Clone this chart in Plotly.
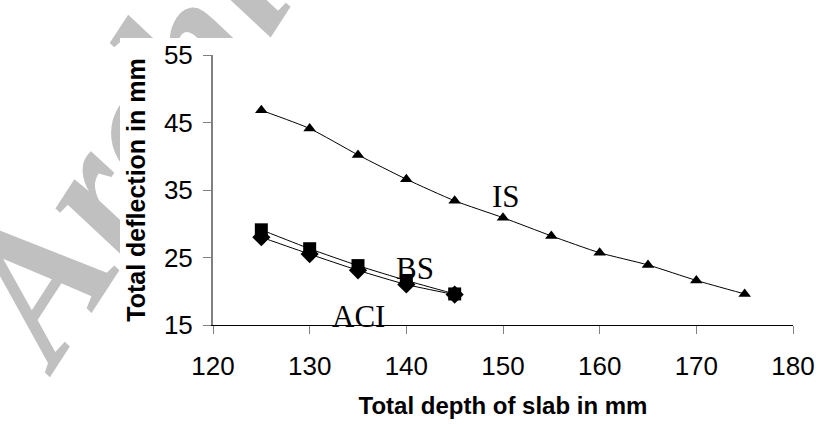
import plotly.graph_objects as go

# Slab depth (mm) and total deflection (mm) for each code
depth_is = [125, 130, 135, 140, 145, 150, 155, 160, 165, 170, 175]
defl_is = [46.8, 44.1, 40.2, 36.6, 33.4, 30.9, 28.2, 25.7, 23.9, 21.6, 19.6]

depth_bs = [125, 130, 135, 140, 145]
defl_bs = [29.1, 26.3, 23.8, 21.6, 19.6]

depth_aci = [125, 130, 135, 140, 145]
defl_aci = [28.0, 25.5, 23.1, 21.0, 19.5]

x_ticks = [120, 130, 140, 150, 160, 170, 180]
y_ticks = [15, 25, 35, 45, 55]

W, H = 819, 424
# plot-area box in pixels
PL, PR, PT, PB = 213, 793, 55, 325
# white chart-area box in pixels
CL, CT = 120, 38


def fx(xpix):
    return xpix / W


def fy(ypix):
    return 1 - ypix / H


fig = go.Figure()

# white chart area (drawn first, under the data subplot)
fig.add_trace(go.Scatter(
    x=[0, 1, 1, 0, 0], y=[0, 0, 1, 1, 0], mode="lines", fill="toself",
    fillcolor="white", line=dict(width=0, color="white"),
    hoverinfo="skip", xaxis="x", yaxis="y",
))

line_style = dict(color="black", width=1, shape="spline", smoothing=0.6)

fig.add_trace(go.Scatter(
    x=depth_aci, y=defl_aci, mode="lines+markers", name="ACI",
    line=line_style, xaxis="x2", yaxis="y2",
    marker=dict(symbol="diamond", size=14, color="black"),
))
fig.add_trace(go.Scatter(
    x=depth_bs, y=defl_bs, mode="lines+markers", name="BS",
    line=line_style, xaxis="x2", yaxis="y2",
    marker=dict(symbol="square", size=13, color="black"),
))
fig.add_trace(go.Scatter(
    x=depth_is, y=defl_is, mode="lines+markers", name="IS",
    line=line_style, xaxis="x2", yaxis="y2",
    marker=dict(symbol="triangle-up", size=11, color="black"),
))

serif = "Times New Roman, Liberation Serif, serif"
sans = "Arial, Liberation Sans, sans-serif"

for txt, xv, yv in [("IS", 150.3, 34.0), ("BS", 140.9, 23.3), ("ACI", 135.1, 16.2)]:
    fig.add_annotation(x=xv, y=yv, xref="x2", yref="y2", text=txt,
                       showarrow=False, xanchor="center", yanchor="middle",
                       font=dict(family=serif, size=31, color="black"))

# faint background lettering
ang = -57
ax0, ay0 = 72, 380
fig.add_shape(
    type="line", xref="paper", yref="paper",
    x0=fx(ax0), y0=fy(ay0), x1=fx(ax0 + 545), y1=fy(ay0 - 839),
    line=dict(width=0, color="rgba(0,0,0,0)"),
    layer="below",
    label=dict(text="<b><i>Archive of SID</i></b>", textposition="start",
               textangle=ang, padding=0, xanchor="left", yanchor="bottom",
               font=dict(family=serif, size=190, color="#c0c0c0")),
)

fig.update_layout(
    width=W, height=H,
    margin=dict(l=0, r=0, t=0, b=0, autoexpand=False),
    paper_bgcolor="white", plot_bgcolor="rgba(0,0,0,0)",
    showlegend=False,
    xaxis=dict(domain=[fx(CL), 1], range=[0, 1], visible=False,
               fixedrange=True),
    yaxis=dict(domain=[0, fy(CT)], range=[0, 1], visible=False,
               fixedrange=True),
    xaxis2=dict(
        domain=[fx(PL), fx(PR)], anchor="y2",
        range=[120, 180], tickvals=x_ticks, ticks="outside", ticklen=8,
        tickcolor="#808080", tickwidth=1, showline=True, linecolor="black",
        linewidth=1, showgrid=False, zeroline=False, ticklabelstandoff=10,
        tickfont=dict(family=sans, size=26, color="black"),
        title=dict(text="<b>Total depth of slab in mm</b>", standoff=16,
                   font=dict(family=sans, size=24, color="black")),
        automargin=False,
    ),
    yaxis2=dict(
        domain=[fy(PB), fy(PT)], anchor="x2",
        range=[15, 55], tickvals=y_ticks, ticks="outside", ticklen=8,
        tickcolor="#808080", tickwidth=1, showline=True, linecolor="#808080",
        linewidth=2, showgrid=False, zeroline=False, ticklabelstandoff=5,
        tickfont=dict(family=sans, size=26, color="black"),
        title=dict(text="<b>Total deflection in mm</b>", standoff=11,
                   font=dict(family=sans, size=25, color="black")),
        automargin=False,
    ),
)

fig.write_html("out.html")
